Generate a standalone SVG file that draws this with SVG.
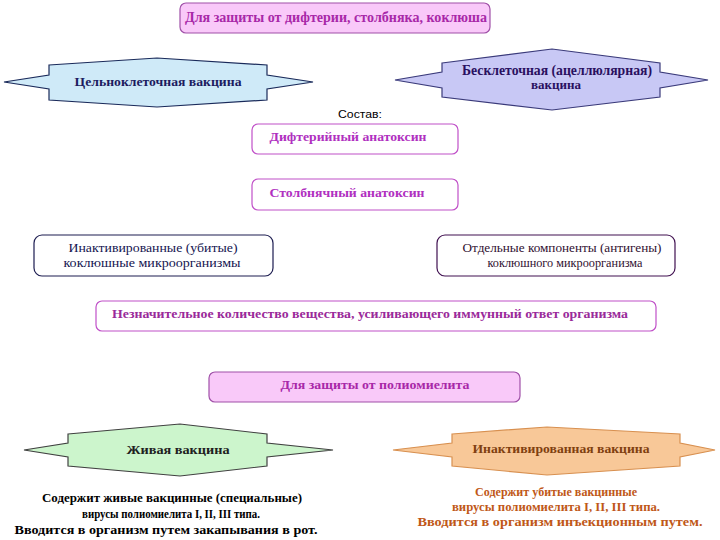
<svg xmlns="http://www.w3.org/2000/svg" width="720" height="540" viewBox="0 0 720 540">
<style>
text{font-family:"Liberation Serif","DejaVu Serif",serif;text-anchor:middle}
.b{font-weight:bold}
.pinkbox{fill:#f9c9f9;stroke:#a050a8;stroke-width:1.2}
.whitebox{fill:#ffffff;stroke:#c050c8;stroke-width:1.2}
.navybox{fill:#ffffff;stroke:#1c1c50;stroke-width:1.2}
.mag{fill:#a828a8}
.navy{fill:#1c1c60}
</style>
<rect width="720" height="540" fill="#ffffff"/>

<g id="title-dtp">
<rect class="pinkbox" x="180" y="3" width="310" height="30" rx="6"/>
<text class="b mag" x="336" y="22" font-size="14" textLength="302" lengthAdjust="spacingAndGlyphs">Для защиты от дифтерии, столбняка, коклюша</text>
</g>

<g id="whole-cell">
<polygon points="49,65 157,58 267,65 267,75 313,82 267,89 267,100 157,107 49,100 49,89 4,82 49,75" fill="#cfeaf8" stroke="#1a2a5a" stroke-width="1.2"/>
<text class="b navy" x="158" y="86" font-size="13" textLength="167" lengthAdjust="spacingAndGlyphs">Цельноклеточная вакцина</text>
</g>

<g id="acellular">
<polygon points="442,63 552,49 660,63 660,72 708,80 660,88 660,97 552,110 442,97 442,88 395,80 442,72" fill="#c8c8f5" stroke="#3a3a7a" stroke-width="1.2"/>
<text fill="#2a1060" x="557" y="75" font-size="14" font-weight="600" textLength="190" lengthAdjust="spacingAndGlyphs">Бесклеточная (ацеллюлярная)</text>
<text class="b" fill="#2a1060" x="556" y="89" font-size="12" textLength="50" lengthAdjust="spacingAndGlyphs">вакцина</text>
</g>

<g id="sostav">
<text x="360" y="118" font-size="11" fill="#000000" style="font-family:'Liberation Sans','DejaVu Sans',sans-serif" textLength="44" lengthAdjust="spacingAndGlyphs">Состав:</text>
</g>

<g id="diphtheria">
<rect class="whitebox" x="252" y="124" width="206" height="30" rx="6"/>
<text class="b" fill="#b030c0" x="348" y="141" font-size="13" textLength="157" lengthAdjust="spacingAndGlyphs">Дифтерийный анатоксин</text>
</g>

<g id="tetanus">
<rect class="whitebox" x="252" y="179" width="206" height="31" rx="6"/>
<text class="b" fill="#b030c0" x="347" y="197" font-size="13" textLength="155" lengthAdjust="spacingAndGlyphs">Столбнячный анатоксин</text>
</g>

<g id="inactivated-pertussis">
<rect class="navybox" x="34" y="235" width="239" height="41" rx="8"/>
<text fill="#141450" x="153" y="252" font-size="13" textLength="169" lengthAdjust="spacingAndGlyphs">Инактивированные (убитые)</text>
<text fill="#141450" x="152" y="267" font-size="13" textLength="177" lengthAdjust="spacingAndGlyphs">коклюшные микроорганизмы</text>
</g>

<g id="antigens">
<rect fill="#ffffff" stroke="#401050" stroke-width="1.2" x="437" y="235" width="238" height="41" rx="8"/>
<text fill="#301030" x="562" y="252" font-size="13" textLength="199" lengthAdjust="spacingAndGlyphs">Отдельные компоненты (антигены)</text>
<text fill="#301030" x="565" y="267" font-size="13" textLength="155" lengthAdjust="spacingAndGlyphs">коклюшного микроорганизма</text>
</g>

<g id="adjuvant">
<rect class="whitebox" x="96" y="301" width="560" height="30" rx="6"/>
<text class="b" fill="#9a2a9a" x="370" y="318" font-size="12.5" textLength="516" lengthAdjust="spacingAndGlyphs">Незначительное количество вещества, усиливающего иммунный ответ организма</text>
</g>

<g id="title-polio">
<rect class="pinkbox" x="209" y="372" width="311" height="30" rx="6"/>
<text class="b mag" x="375" y="389" font-size="13" textLength="189" lengthAdjust="spacingAndGlyphs">Для защиты от полиомиелита</text>
</g>

<g id="live-vaccine">
<polygon points="68,434 180,424 267,434 267,443 333,450 267,457 267,466 180,476 68,466 68,457 24,450 68,443" fill="#ccf5cc" stroke="#404040" stroke-width="1.2"/>
<text class="b" fill="#202020" x="178" y="454" font-size="12" textLength="103" lengthAdjust="spacingAndGlyphs">Живая вакцина</text>
</g>

<g id="live-desc">
<text class="b" fill="#000000" x="172" y="502" font-size="13" textLength="260" lengthAdjust="spacingAndGlyphs">Содержит  живые вакцинные (специальные)</text>
<text class="b" fill="#000000" x="171" y="518" font-size="13" textLength="178" lengthAdjust="spacingAndGlyphs">вирусы полиомиелита I, II, III типа.</text>
<text class="b" fill="#000000" x="166" y="534" font-size="13" textLength="303" lengthAdjust="spacingAndGlyphs">Вводится в организм путем закапывания в рот.</text>
</g>

<g id="inactivated-vaccine">
<polygon points="452,434 547,427 680,434 680,443 715,450 680,457 680,466 547,475 452,466 452,457 393,450 452,443" fill="#f8c898" stroke="#d89050" stroke-width="1.2"/>
<text class="b" fill="#804010" x="561" y="453" font-size="12" textLength="177" lengthAdjust="spacingAndGlyphs">Инактивированная вакцина</text>
</g>

<g id="inactivated-desc">
<text class="b" fill="#c05818" x="556" y="496" font-size="13" textLength="162" lengthAdjust="spacingAndGlyphs">Содержит убитые вакцинные</text>
<text class="b" fill="#c05818" x="556" y="511" font-size="13" textLength="208" lengthAdjust="spacingAndGlyphs">вирусы полиомиелита I, II, III типа.</text>
<text class="b" fill="#c05818" x="560" y="526" font-size="13" textLength="285" lengthAdjust="spacingAndGlyphs">Вводится в организм инъекционным путем.</text>
</g>
</svg>
